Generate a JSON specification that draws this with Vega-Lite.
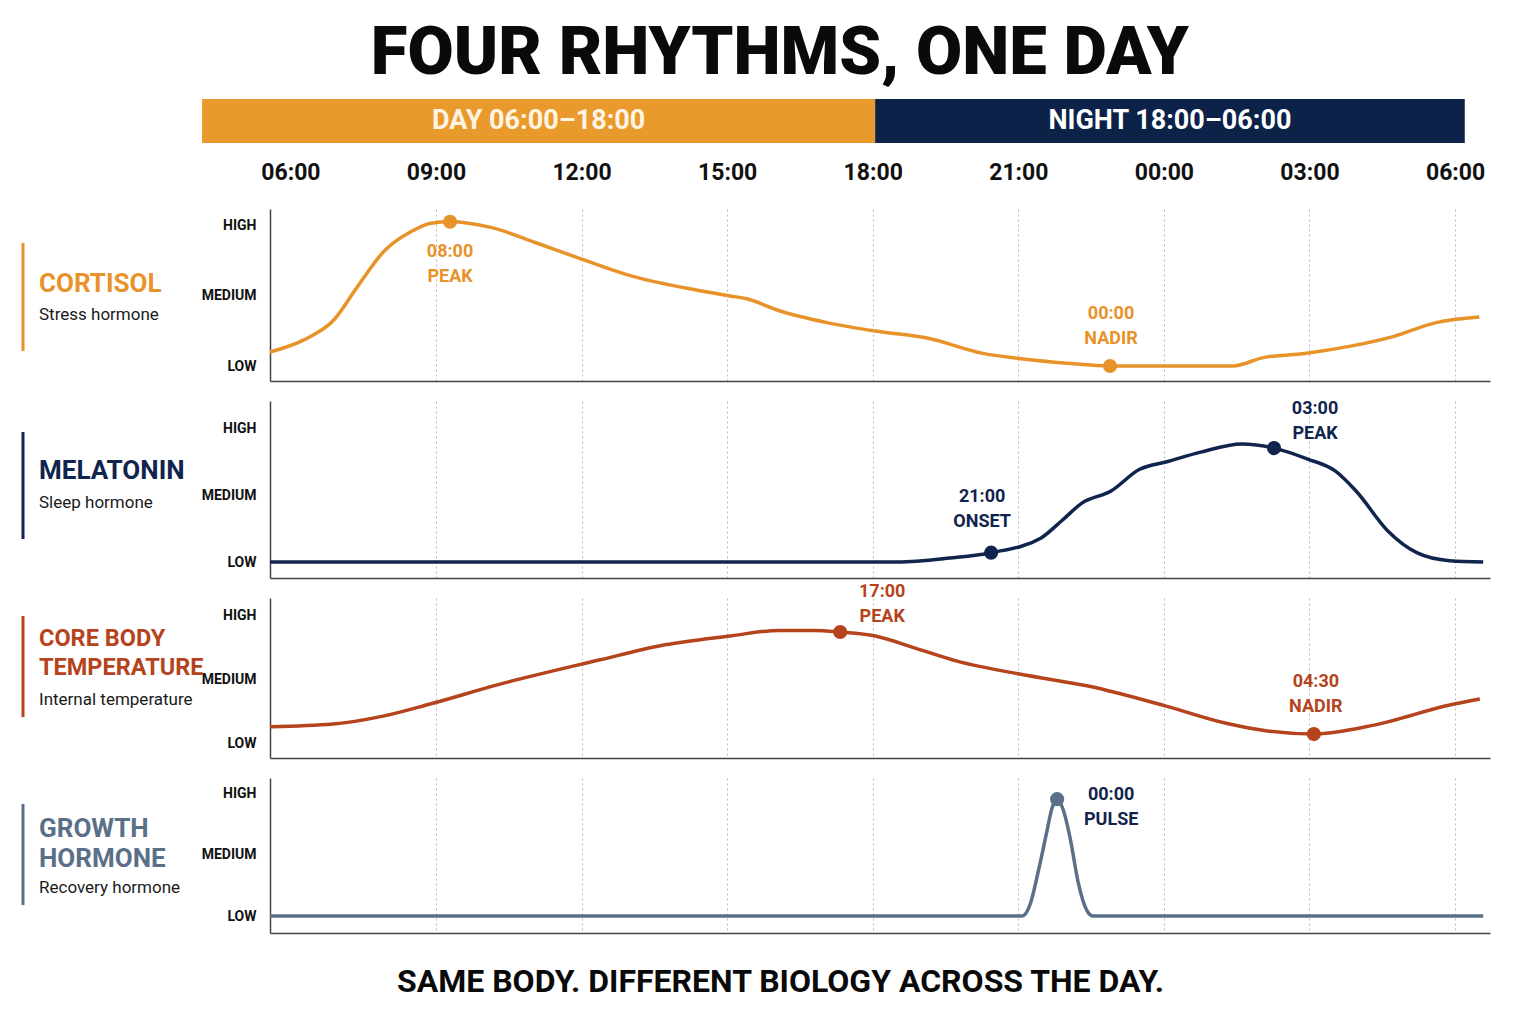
{
  "$schema": "https://vega.github.io/schema/vega-lite/v6.json",
  "background": "white",
  "padding": {"left": 21, "top": 20, "right": 10, "bottom": 10},
  "title": {
    "text": "FOUR RHYTHMS, ONE DAY",
    "fontSize": 67,
    "fontWeight": 900,
    "font": "Roboto",
    "color": "#0a0a0a",
    "anchor": "middle",
    "dx": 24,
    "offset": 11
  },
  "datasets": {
    "phases": [
      {"phase": "DAY 06:00–18:00", "start": 4.18, "end": 18.05},
      {"phase": "NIGHT 18:00–06:00", "start": 18.05, "end": 30.2}
    ],
    "labels": [
      {"panel": "cortisol", "name": "CORTISOL", "role": "Stress hormone"},
      {"panel": "melatonin", "name": "MELATONIN", "role": "Sleep hormone"},
      {"panel": "temperature", "name": "CORE BODY\nTEMPERATURE", "role": "Internal temperature"},
      {"panel": "growth", "name": "GROWTH\nHORMONE", "role": "Recovery hormone"}
    ],
    "events": [
      {"panel": "cortisol", "kind": "peak", "hour": 9.29, "level": 1.03, "note": "08:00\nPEAK"},
      {"panel": "cortisol", "kind": "nadir", "hour": 22.89, "level": 0.0, "note": "00:00\nNADIR"},
      {"panel": "melatonin", "kind": "onset", "hour": 20.44, "level": 0.07, "note": "21:00\nONSET"},
      {"panel": "melatonin", "kind": "peak", "hour": 26.27, "level": 0.85, "note": "03:00\nPEAK"},
      {"panel": "temperature", "kind": "peak", "hour": 17.33, "level": 0.867, "note": "17:00\nPEAK"},
      {"panel": "temperature", "kind": "nadir", "hour": 27.09, "level": 0.07, "note": "04:30\nNADIR"},
      {"panel": "growth", "kind": "pulse", "hour": 21.8, "level": 0.95, "note": "00:00\nPULSE"}
    ],
    "rhythms": [
      {"panel": "cortisol", "hour": 5.58, "level": 0.1},
      {"panel": "cortisol", "hour": 6.3, "level": 0.19},
      {"panel": "cortisol", "hour": 6.9, "level": 0.33},
      {"panel": "cortisol", "hour": 7.37, "level": 0.56},
      {"panel": "cortisol", "hour": 7.93, "level": 0.82},
      {"panel": "cortisol", "hour": 8.49, "level": 0.96},
      {"panel": "cortisol", "hour": 8.9, "level": 1.02},
      {"panel": "cortisol", "hour": 9.29, "level": 1.03},
      {"panel": "cortisol", "hour": 10.13, "level": 0.99},
      {"panel": "cortisol", "hour": 11.06, "level": 0.88},
      {"panel": "cortisol", "hour": 12.03, "level": 0.76},
      {"panel": "cortisol", "hour": 13.06, "level": 0.64},
      {"panel": "cortisol", "hour": 14.09, "level": 0.56},
      {"panel": "cortisol", "hour": 15.06, "level": 0.5},
      {"panel": "cortisol", "hour": 15.41, "level": 0.48},
      {"panel": "cortisol", "hour": 16.03, "level": 0.4},
      {"panel": "cortisol", "hour": 17.06, "level": 0.31},
      {"panel": "cortisol", "hour": 18.05, "level": 0.25},
      {"panel": "cortisol", "hour": 19.12, "level": 0.2},
      {"panel": "cortisol", "hour": 20.27, "level": 0.09},
      {"panel": "cortisol", "hour": 21.1, "level": 0.05},
      {"panel": "cortisol", "hour": 22.0, "level": 0.02},
      {"panel": "cortisol", "hour": 22.89, "level": 0.0},
      {"panel": "cortisol", "hour": 23.8, "level": 0.0},
      {"panel": "cortisol", "hour": 25.41, "level": 0.0},
      {"panel": "cortisol", "hour": 26.05, "level": 0.06},
      {"panel": "cortisol", "hour": 26.91, "level": 0.09},
      {"panel": "cortisol", "hour": 27.82, "level": 0.14},
      {"panel": "cortisol", "hour": 28.72, "level": 0.21},
      {"panel": "cortisol", "hour": 29.61, "level": 0.31},
      {"panel": "cortisol", "hour": 30.5, "level": 0.35},
      {"panel": "melatonin", "hour": 5.58, "level": 0.0},
      {"panel": "melatonin", "hour": 12.0, "level": 0.0},
      {"panel": "melatonin", "hour": 18.52, "level": 0.0},
      {"panel": "melatonin", "hour": 19.59, "level": 0.03},
      {"panel": "melatonin", "hour": 20.44, "level": 0.07},
      {"panel": "melatonin", "hour": 21.47, "level": 0.18},
      {"panel": "melatonin", "hour": 21.9, "level": 0.31},
      {"panel": "melatonin", "hour": 22.31, "level": 0.44},
      {"panel": "melatonin", "hour": 22.91, "level": 0.53},
      {"panel": "melatonin", "hour": 23.49, "level": 0.69},
      {"panel": "melatonin", "hour": 24.08, "level": 0.75},
      {"panel": "melatonin", "hour": 24.76, "level": 0.82},
      {"panel": "melatonin", "hour": 25.61, "level": 0.88},
      {"panel": "melatonin", "hour": 26.27, "level": 0.85},
      {"panel": "melatonin", "hour": 26.95, "level": 0.77},
      {"panel": "melatonin", "hour": 27.53, "level": 0.68},
      {"panel": "melatonin", "hour": 27.96, "level": 0.53},
      {"panel": "melatonin", "hour": 28.62, "level": 0.23},
      {"panel": "melatonin", "hour": 29.21, "level": 0.07},
      {"panel": "melatonin", "hour": 29.89, "level": 0.01},
      {"panel": "melatonin", "hour": 30.58, "level": 0.0},
      {"panel": "temperature", "hour": 5.58, "level": 0.127},
      {"panel": "temperature", "hour": 6.88, "level": 0.148},
      {"panel": "temperature", "hour": 7.91, "level": 0.21},
      {"panel": "temperature", "hour": 8.88, "level": 0.305},
      {"panel": "temperature", "hour": 10.32, "level": 0.46},
      {"panel": "temperature", "hour": 12.38, "level": 0.65},
      {"panel": "temperature", "hour": 13.62, "level": 0.76},
      {"panel": "temperature", "hour": 15.06, "level": 0.836},
      {"panel": "temperature", "hour": 16.07, "level": 0.88},
      {"panel": "temperature", "hour": 16.81, "level": 0.88},
      {"panel": "temperature", "hour": 17.33, "level": 0.867},
      {"panel": "temperature", "hour": 18.05, "level": 0.836},
      {"panel": "temperature", "hour": 18.89, "level": 0.74},
      {"panel": "temperature", "hour": 19.74, "level": 0.64},
      {"panel": "temperature", "hour": 21.08, "level": 0.535},
      {"panel": "temperature", "hour": 22.44, "level": 0.445},
      {"panel": "temperature", "hour": 24.03, "level": 0.29},
      {"panel": "temperature", "hour": 25.26, "level": 0.156},
      {"panel": "temperature", "hour": 26.13, "level": 0.094},
      {"panel": "temperature", "hour": 27.09, "level": 0.07},
      {"panel": "temperature", "hour": 28.33, "level": 0.14},
      {"panel": "temperature", "hour": 29.89, "level": 0.297},
      {"panel": "temperature", "hour": 30.51, "level": 0.344},
      {"panel": "growth", "hour": 5.58, "level": 0.0},
      {"panel": "growth", "hour": 14.0, "level": 0.0},
      {"panel": "growth", "hour": 21.08, "level": 0.0},
      {"panel": "growth", "hour": 21.24, "level": 0.09},
      {"panel": "growth", "hour": 21.41, "level": 0.36},
      {"panel": "growth", "hour": 21.59, "level": 0.69},
      {"panel": "growth", "hour": 21.69, "level": 0.87},
      {"panel": "growth", "hour": 21.8, "level": 0.95},
      {"panel": "growth", "hour": 21.92, "level": 0.87},
      {"panel": "growth", "hour": 22.07, "level": 0.63},
      {"panel": "growth", "hour": 22.23, "level": 0.28},
      {"panel": "growth", "hour": 22.42, "level": 0.04},
      {"panel": "growth", "hour": 22.54, "level": 0.0},
      {"panel": "growth", "hour": 26.0, "level": 0.0},
      {"panel": "growth", "hour": 30.58, "level": 0.0}
    ]
  },
  "spacing": 25,
  "vconcat": [
    {
      "width": 1220,
      "height": 44,
      "data": {"name": "phases"},
      "layer": [
        {
          "mark": {"type": "rect"},
          "encoding": {
            "x": {
              "field": "start",
              "type": "quantitative",
              "scale": {"domain": [5.58, 30.72], "nice": false, "zero": false},
              "axis": {
                "orient": "bottom",
                "values": [6, 9, 12, 15, 18, 21, 24, 27, 30],
                "labelExpr": "(datum.value % 24 < 10 ? '0' : '') + (datum.value % 24) + ':00'",
                "ticks": false,
                "tickSize": 0,
                "domain": false,
                "grid": false,
                "labelFlush": false,
                "labelOverlap": false,
                "labelFontSize": 23,
                "labelFontWeight": "bold",
                "labelColor": "#111111",
                "labelPadding": 18,
                "title": null
              }
            },
            "x2": {"field": "end"},
            "color": {
              "field": "phase",
              "type": "nominal",
              "scale": {"domain": ["DAY 06:00–18:00", "NIGHT 18:00–06:00"], "range": ["#E99A2C", "#0C2249"]},
              "legend": null
            }
          }
        },
        {
          "transform": [{"calculate": "(datum.start + datum.end) / 2", "as": "mid"}],
          "mark": {"type": "text", "fontSize": 27, "fontWeight": "bold", "baseline": "middle", "align": "center"},
          "encoding": {
            "x": {"field": "mid", "type": "quantitative"},
            "text": {"field": "phase"},
            "color": {"condition": {"test": "datum.start < 10", "value": "#FFF4E3"}, "value": "#FFFFFF"}
          }
        }
      ]
    },
    {
      "spacing": 20,
      "bounds": "flush",
      "vconcat": [
        {
          "width": 1220,
          "height": 172,
          "layer": [
            {
              "data": {"name": "rhythms"},
              "transform": [{"filter": "datum.panel == 'cortisol'"}],
              "mark": {"type": "line", "interpolate": "monotone", "color": "#E8922A", "strokeWidth": 3.5},
              "encoding": {
                "x": {
                  "field": "hour", "type": "quantitative",
                  "scale": {"domain": [5.58, 30.72], "nice": false, "zero": false},
                  "axis": {"values": [9, 12, 15, 18, 21, 24, 27, 30], "labels": false, "ticks": false, "tickSize": 0, "domain": true, "domainColor": "#444444", "domainWidth": 1.5, "grid": true, "gridColor": "#BBBBBB", "gridDash": [2, 3], "title": null}
                },
                "y": {
                  "field": "level", "type": "quantitative",
                  "scale": {"domain": [-0.107, 1.121], "nice": false, "zero": false},
                  "axis": {"values": [0, 0.5, 1], "labelExpr": "datum.value == 1 ? 'HIGH' : datum.value == 0.5 ? 'MEDIUM' : 'LOW'", "ticks": false, "tickSize": 0, "grid": false, "domain": true, "domainColor": "#444444", "domainWidth": 1.5, "labelFontSize": 14, "labelFontWeight": "bold", "labelColor": "#111111", "labelPadding": 14, "title": null}
                }
              }
            },
            {
              "data": {"name": "labels"},
              "transform": [{"filter": "datum.panel == 'cortisol'"}],
              "mark": {"type": "rule", "color": "#E8922A", "strokeWidth": 3},
              "encoding": {
                "x": {"datum": 0.49, "type": "quantitative"},
                "y": {"datum": 0.879, "type": "quantitative"},
                "y2": {"datum": 0.107}
              }
            },
            {
              "data": {"name": "labels"},
              "transform": [{"filter": "datum.panel == 'cortisol'"}],
              "mark": {"type": "text", "align": "left", "baseline": "middle", "fontSize": 26, "fontWeight": "bold", "color": "#E8922A", "lineBreak": "\n", "lineHeight": 29},
              "encoding": {
                "x": {"datum": 0.82, "type": "quantitative"},
                "y": {"datum": 0.586, "type": "quantitative"},
                "text": {"field": "name"}
              }
            },
            {
              "data": {"name": "labels"},
              "transform": [{"filter": "datum.panel == 'cortisol'"}],
              "mark": {"type": "text", "align": "left", "baseline": "middle", "fontSize": 17, "color": "#1a1a1a"},
              "encoding": {
                "x": {"datum": 0.82, "type": "quantitative"},
                "y": {"datum": 0.364, "type": "quantitative"},
                "text": {"field": "role"}
              }
            },
            {
              "data": {"name": "events"},
              "transform": [{"filter": "datum.panel == 'cortisol'"}],
              "mark": {"type": "circle", "size": 200, "opacity": 1, "color": "#E8922A"},
              "encoding": {
                "x": {"field": "hour", "type": "quantitative"},
                "y": {"field": "level", "type": "quantitative"}
              }
            },
            {
              "data": {"name": "events"},
              "transform": [{"filter": "datum.panel == 'cortisol' && datum.kind == 'peak'"}],
              "mark": {"type": "text", "align": "center", "baseline": "middle", "fontSize": 18, "fontWeight": "bold", "color": "#E8922A", "lineBreak": "\n", "lineHeight": 25, "dx": 0, "dy": 30},
              "encoding": {
                "x": {"field": "hour", "type": "quantitative"},
                "y": {"field": "level", "type": "quantitative"},
                "text": {"field": "note"}
              }
            },
            {
              "data": {"name": "events"},
              "transform": [{"filter": "datum.panel == 'cortisol' && datum.kind == 'nadir'"}],
              "mark": {"type": "text", "align": "center", "baseline": "middle", "fontSize": 18, "fontWeight": "bold", "color": "#E8922A", "lineBreak": "\n", "lineHeight": 25, "dx": 1, "dy": -52},
              "encoding": {
                "x": {"field": "hour", "type": "quantitative"},
                "y": {"field": "level", "type": "quantitative"},
                "text": {"field": "note"}
              }
            }
          ]
        },
        {
          "width": 1220,
          "height": 177,
          "layer": [
            {
              "data": {"name": "rhythms"},
              "transform": [{"filter": "datum.panel == 'melatonin'"}],
              "mark": {"type": "line", "interpolate": "monotone", "color": "#10244D", "strokeWidth": 3.5},
              "encoding": {
                "x": {
                  "field": "hour", "type": "quantitative",
                  "scale": {"domain": [5.58, 30.72], "nice": false, "zero": false},
                  "axis": {"values": [9, 12, 15, 18, 21, 24, 27, 30], "labels": false, "ticks": false, "tickSize": 0, "domain": true, "domainColor": "#444444", "domainWidth": 1.5, "grid": true, "gridColor": "#BBBBBB", "gridDash": [2, 3], "title": null}
                },
                "y": {
                  "field": "level", "type": "quantitative",
                  "scale": {"domain": [-0.119, 1.2015], "nice": false, "zero": false},
                  "axis": {"values": [0, 0.5, 1], "labelExpr": "datum.value == 1 ? 'HIGH' : datum.value == 0.5 ? 'MEDIUM' : 'LOW'", "ticks": false, "tickSize": 0, "grid": false, "domain": true, "domainColor": "#444444", "domainWidth": 1.5, "labelFontSize": 14, "labelFontWeight": "bold", "labelColor": "#111111", "labelPadding": 14, "title": null}
                }
              }
            },
            {
              "data": {"name": "labels"},
              "transform": [{"filter": "datum.panel == 'melatonin'"}],
              "mark": {"type": "rule", "color": "#10244D", "strokeWidth": 3},
              "encoding": {
                "x": {"datum": 0.49, "type": "quantitative"},
                "y": {"datum": 0.97, "type": "quantitative"},
                "y2": {"datum": 0.172}
              }
            },
            {
              "data": {"name": "labels"},
              "transform": [{"filter": "datum.panel == 'melatonin'"}],
              "mark": {"type": "text", "align": "left", "baseline": "middle", "fontSize": 26, "fontWeight": "bold", "color": "#10244D", "lineBreak": "\n", "lineHeight": 29},
              "encoding": {
                "x": {"datum": 0.82, "type": "quantitative"},
                "y": {"datum": 0.679, "type": "quantitative"},
                "text": {"field": "name"}
              }
            },
            {
              "data": {"name": "labels"},
              "transform": [{"filter": "datum.panel == 'melatonin'"}],
              "mark": {"type": "text", "align": "left", "baseline": "middle", "fontSize": 17, "color": "#1a1a1a"},
              "encoding": {
                "x": {"datum": 0.82, "type": "quantitative"},
                "y": {"datum": 0.44, "type": "quantitative"},
                "text": {"field": "role"}
              }
            },
            {
              "data": {"name": "events"},
              "transform": [{"filter": "datum.panel == 'melatonin'"}],
              "mark": {"type": "circle", "size": 200, "opacity": 1, "color": "#10244D"},
              "encoding": {
                "x": {"field": "hour", "type": "quantitative"},
                "y": {"field": "level", "type": "quantitative"}
              }
            },
            {
              "data": {"name": "events"},
              "transform": [{"filter": "datum.panel == 'melatonin' && datum.kind == 'onset'"}],
              "mark": {"type": "text", "align": "center", "baseline": "middle", "fontSize": 18, "fontWeight": "bold", "color": "#10244D", "lineBreak": "\n", "lineHeight": 25, "dx": -9, "dy": -56},
              "encoding": {
                "x": {"field": "hour", "type": "quantitative"},
                "y": {"field": "level", "type": "quantitative"},
                "text": {"field": "note"}
              }
            },
            {
              "data": {"name": "events"},
              "transform": [{"filter": "datum.panel == 'melatonin' && datum.kind == 'peak'"}],
              "mark": {"type": "text", "align": "center", "baseline": "middle", "fontSize": 18, "fontWeight": "bold", "color": "#10244D", "lineBreak": "\n", "lineHeight": 25, "dx": 41, "dy": -39},
              "encoding": {
                "x": {"field": "hour", "type": "quantitative"},
                "y": {"field": "level", "type": "quantitative"},
                "text": {"field": "note"}
              }
            }
          ]
        },
        {
          "width": 1220,
          "height": 160,
          "layer": [
            {
              "data": {"name": "rhythms"},
              "transform": [{"filter": "datum.panel == 'temperature'"}],
              "mark": {"type": "line", "interpolate": "monotone", "color": "#B5431C", "strokeWidth": 3.5},
              "encoding": {
                "x": {
                  "field": "hour", "type": "quantitative",
                  "scale": {"domain": [5.58, 30.72], "nice": false, "zero": false},
                  "axis": {"values": [9, 12, 15, 18, 21, 24, 27, 30], "labels": false, "ticks": false, "tickSize": 0, "domain": true, "domainColor": "#444444", "domainWidth": 1.5, "grid": true, "gridColor": "#BBBBBB", "gridDash": [2, 3], "title": null}
                },
                "y": {
                  "field": "level", "type": "quantitative",
                  "scale": {"domain": [-0.117, 1.133], "nice": false, "zero": false},
                  "axis": {"values": [0, 0.5, 1], "labelExpr": "datum.value == 1 ? 'HIGH' : datum.value == 0.5 ? 'MEDIUM' : 'LOW'", "ticks": false, "tickSize": 0, "grid": false, "domain": true, "domainColor": "#444444", "domainWidth": 1.5, "labelFontSize": 14, "labelFontWeight": "bold", "labelColor": "#111111", "labelPadding": 14, "title": null}
                }
              }
            },
            {
              "data": {"name": "labels"},
              "transform": [{"filter": "datum.panel == 'temperature'"}],
              "mark": {"type": "rule", "color": "#B5431C", "strokeWidth": 3},
              "encoding": {
                "x": {"datum": 0.49, "type": "quantitative"},
                "y": {"datum": 0.992, "type": "quantitative"},
                "y2": {"datum": 0.203}
              }
            },
            {
              "data": {"name": "labels"},
              "transform": [{"filter": "datum.panel == 'temperature'"}],
              "mark": {"type": "text", "align": "left", "baseline": "middle", "fontSize": 23.5, "fontWeight": "bold", "color": "#B5431C", "lineBreak": "\n", "lineHeight": 29},
              "encoding": {
                "x": {"datum": 0.82, "type": "quantitative"},
                "y": {"datum": 0.812, "type": "quantitative"},
                "text": {"field": "name"}
              }
            },
            {
              "data": {"name": "labels"},
              "transform": [{"filter": "datum.panel == 'temperature'"}],
              "mark": {"type": "text", "align": "left", "baseline": "middle", "fontSize": 17, "color": "#1a1a1a"},
              "encoding": {
                "x": {"datum": 0.82, "type": "quantitative"},
                "y": {"datum": 0.336, "type": "quantitative"},
                "text": {"field": "role"}
              }
            },
            {
              "data": {"name": "events"},
              "transform": [{"filter": "datum.panel == 'temperature'"}],
              "mark": {"type": "circle", "size": 200, "opacity": 1, "color": "#B5431C"},
              "encoding": {
                "x": {"field": "hour", "type": "quantitative"},
                "y": {"field": "level", "type": "quantitative"}
              }
            },
            {
              "data": {"name": "events"},
              "transform": [{"filter": "datum.panel == 'temperature' && datum.kind == 'peak'"}],
              "mark": {"type": "text", "align": "center", "baseline": "middle", "fontSize": 18, "fontWeight": "bold", "color": "#B5431C", "lineBreak": "\n", "lineHeight": 25, "dx": 42, "dy": -40},
              "encoding": {
                "x": {"field": "hour", "type": "quantitative"},
                "y": {"field": "level", "type": "quantitative"},
                "text": {"field": "note"}
              }
            },
            {
              "data": {"name": "events"},
              "transform": [{"filter": "datum.panel == 'temperature' && datum.kind == 'nadir'"}],
              "mark": {"type": "text", "align": "center", "baseline": "middle", "fontSize": 18, "fontWeight": "bold", "color": "#B5431C", "lineBreak": "\n", "lineHeight": 25, "dx": 2, "dy": -52},
              "encoding": {
                "x": {"field": "hour", "type": "quantitative"},
                "y": {"field": "level", "type": "quantitative"},
                "text": {"field": "note"}
              }
            }
          ]
        },
        {
          "width": 1220,
          "height": 155,
          "layer": [
            {
              "data": {"name": "rhythms"},
              "transform": [{"filter": "datum.panel == 'growth'"}],
              "mark": {"type": "line", "interpolate": "monotone", "color": "#5A7088", "strokeWidth": 3.5},
              "encoding": {
                "x": {
                  "field": "hour", "type": "quantitative",
                  "scale": {"domain": [5.58, 30.72], "nice": false, "zero": false},
                  "axis": {"values": [9, 12, 15, 18, 21, 24, 27, 30], "labels": false, "ticks": false, "tickSize": 0, "domain": true, "domainColor": "#444444", "domainWidth": 1.5, "grid": true, "gridColor": "#BBBBBB", "gridDash": [2, 3],
                    "title": "SAME BODY. DIFFERENT BIOLOGY ACROSS THE DAY.", "titleFontSize": 32, "titleFontWeight": "bold", "titleColor": "#0a0a0a", "titlePadding": 33, "titleX": 510, "titleAlign": "center"}
                },
                "y": {
                  "field": "level", "type": "quantitative",
                  "scale": {"domain": [-0.138, 1.122], "nice": false, "zero": false},
                  "axis": {"values": [0, 0.5, 1], "labelExpr": "datum.value == 1 ? 'HIGH' : datum.value == 0.5 ? 'MEDIUM' : 'LOW'", "ticks": false, "tickSize": 0, "grid": false, "domain": true, "domainColor": "#444444", "domainWidth": 1.5, "labelFontSize": 14, "labelFontWeight": "bold", "labelColor": "#111111", "labelPadding": 14, "title": null}
                }
              }
            },
            {
              "data": {"name": "labels"},
              "transform": [{"filter": "datum.panel == 'growth'"}],
              "mark": {"type": "rule", "color": "#5A7088", "strokeWidth": 3},
              "encoding": {
                "x": {"datum": 0.49, "type": "quantitative"},
                "y": {"datum": 0.911, "type": "quantitative"},
                "y2": {"datum": 0.089}
              }
            },
            {
              "data": {"name": "labels"},
              "transform": [{"filter": "datum.panel == 'growth'"}],
              "mark": {"type": "text", "align": "left", "baseline": "middle", "fontSize": 26, "fontWeight": "bold", "color": "#5A7088", "lineBreak": "\n", "lineHeight": 30},
              "encoding": {
                "x": {"datum": 0.82, "type": "quantitative"},
                "y": {"datum": 0.707, "type": "quantitative"},
                "text": {"field": "name"}
              }
            },
            {
              "data": {"name": "labels"},
              "transform": [{"filter": "datum.panel == 'growth'"}],
              "mark": {"type": "text", "align": "left", "baseline": "middle", "fontSize": 17, "color": "#1a1a1a"},
              "encoding": {
                "x": {"datum": 0.82, "type": "quantitative"},
                "y": {"datum": 0.228, "type": "quantitative"},
                "text": {"field": "role"}
              }
            },
            {
              "data": {"name": "events"},
              "transform": [{"filter": "datum.panel == 'growth'"}],
              "mark": {"type": "circle", "size": 200, "opacity": 1, "color": "#5A7088"},
              "encoding": {
                "x": {"field": "hour", "type": "quantitative"},
                "y": {"field": "level", "type": "quantitative"}
              }
            },
            {
              "data": {"name": "events"},
              "transform": [{"filter": "datum.panel == 'growth' && datum.kind == 'pulse'"}],
              "mark": {"type": "text", "align": "center", "baseline": "middle", "fontSize": 18, "fontWeight": "bold", "color": "#13244A", "lineBreak": "\n", "lineHeight": 25, "dx": 54, "dy": -4},
              "encoding": {
                "x": {"field": "hour", "type": "quantitative"},
                "y": {"field": "level", "type": "quantitative"},
                "text": {"field": "note"}
              }
            }
          ]
        }
      ]
    }
  ],
  "config": {
    "font": "Roboto",
    "view": {"stroke": null},
    "axis": {"labelFont": "Roboto", "titleFont": "Roboto"}
  }
}
